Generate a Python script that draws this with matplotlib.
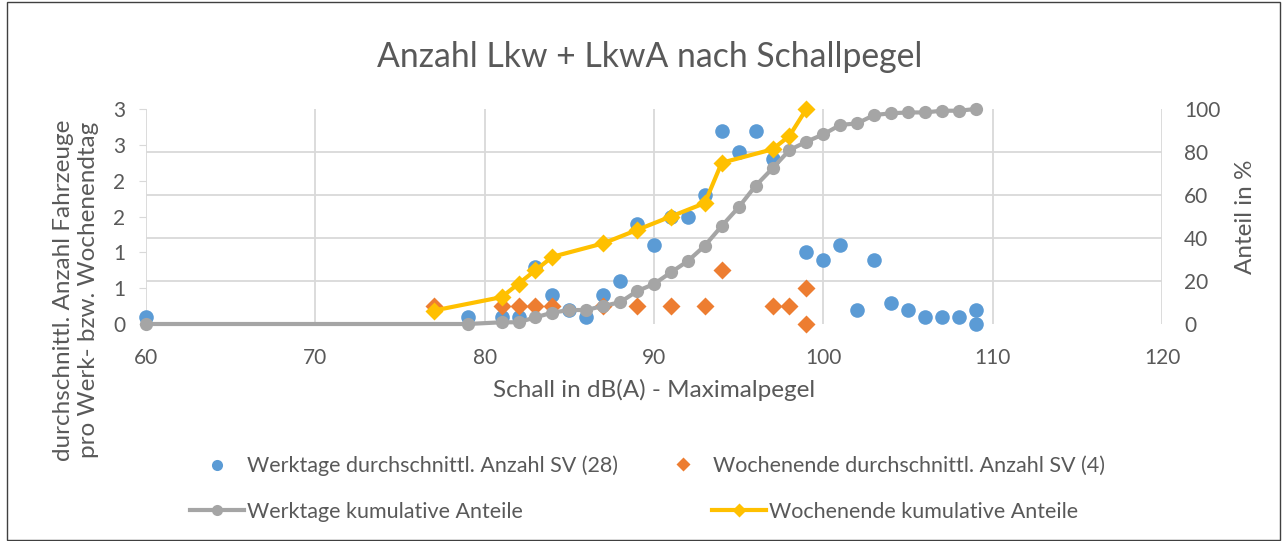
import numpy as np
import matplotlib.pyplot as plt
from matplotlib.lines import Line2D
from matplotlib.patches import Rectangle

plt.rcParams['font.family'] = ['Lato', 'DejaVu Sans']

# Werktage: durchschnittl. Anzahl SV je Schallpegel (28 Tage)
wt_x = [60, 79, 81, 82, 83, 84, 85, 86, 87, 88, 89, 90, 91, 92, 93, 94, 95, 96, 97,
        99, 100, 101, 102, 103, 104, 105, 106, 107, 108, 109, 109]
wt_y = [0.1, 0.1, 0.1, 0.1, 0.8, 0.4, 0.2, 0.1, 0.4, 0.6, 1.4, 1.1, 1.5, 1.5, 1.8, 2.7, 2.4, 2.7, 2.3,
        1.0, 0.9, 1.1, 0.2, 0.9, 0.3, 0.2, 0.1, 0.1, 0.1, 0.2, 0.0]

# Wochenende: durchschnittl. Anzahl SV (4 Tage)
we_x = [77, 81, 82, 83, 84, 87, 89, 91, 93, 94, 97, 98, 99, 99]
we_y = [0.25, 0.25, 0.25, 0.25, 0.25, 0.25, 0.25, 0.25, 0.25, 0.75, 0.25, 0.25, 0.5, 0.0]

# kumulative Anteile in %
wk_x = [60, 79, 81, 82, 83, 84, 85, 86, 87, 88, 89, 90, 91, 92, 93, 94, 95, 96, 97, 98,
        99, 100, 101, 102, 103, 104, 105, 106, 107, 108, 109]
wk_y = [0, 0, 0.8, 0.8, 3.1, 5.3, 6.5, 6.5, 8.4, 10.1, 15.3, 18.6, 24.0, 29.3, 36.4, 45.6, 54.3, 64.3, 72.4, 80.9,
        84.8, 88.2, 92.6, 93.3, 97.2, 98.0, 98.4, 98.4, 99.2, 99.2, 100]
wc_x = [77, 81, 82, 83, 84, 87, 89, 91, 93, 94, 97, 98, 99]
wc_y = [6.25, 12.5, 18.75, 25, 31.25, 37.5, 43.75, 50, 56.25, 75, 81.25, 87.5, 100]

x_ticks = [60, 70, 80, 90, 100, 110, 120]
left_ticks = [0, 0.5, 1.0, 1.5, 2.0, 2.5, 3.0]
left_labels = ['0', '1', '1', '2', '2', '3', '3']   # Excel-Format "0"
right_ticks = [0, 20, 40, 60, 80, 100]

BLUE, ORANGE, GRAY, YELLOW = '#5b9bd5', '#ed7d31', '#a5a5a5', '#ffc000'
TXT, GRID = '#595959', '#d9d9d9'
W, H = 1284, 541

fig = plt.figure(figsize=(W / 100, H / 100), dpi=100)
ax = fig.add_axes([146 / W, 1 - 324 / H, (1162 - 146) / W, (324 - 109) / H])
ax2 = ax.twinx()

ax.plot(wt_x, wt_y, 'o', ms=10.5, color=BLUE, mec='none', clip_on=False, zorder=3)
ax.plot(we_x, we_y, 'D', ms=9.5, color=ORANGE, mec='none', clip_on=False, zorder=3)
ax2.plot(wk_x, wk_y, '-o', lw=3, ms=9.5, color=GRAY, mec='none', clip_on=False, zorder=3)
ax2.plot(wc_x, wc_y, '-D', lw=3, ms=9.5, color=YELLOW, mec='none', clip_on=False, zorder=4)

ax.set_xlim(60, 120)
ax.set_ylim(0, 3)
ax2.set_ylim(0, 100)
ax.set_xticks(x_ticks)
ax.set_yticks(left_ticks)
ax.set_yticklabels(left_labels)
ax.set_yticks([t * 3 / 100 for t in right_ticks], minor=True)
ax2.set_yticks(right_ticks)

ax.set_axisbelow(True)
ax.grid(axis='x', which='major', color=GRID, lw=1.3)
ax.grid(axis='y', which='minor', color=GRID, lw=1.3)
ax.grid(axis='y', which='major', visible=False)
for a in (ax, ax2):
    for s in a.spines.values():
        s.set_visible(False)
ax.tick_params(axis='y', which='major', length=5, color=GRID, pad=10, labelsize=15, labelcolor=TXT)
ax.tick_params(axis='y', which='minor', length=0)
ax.tick_params(axis='x', length=0, pad=17, labelsize=15, labelcolor=TXT)
ax2.tick_params(axis='y', length=0, pad=16, labelsize=15, labelcolor=TXT)

ax.set_xlabel('Schall in dB(A) - Maximalpegel', fontsize=17.5, color=TXT, labelpad=8)
fig.text(76 / W, 1 - 290 / H, 'durchschnittl. Anzahl Fahrzeuge\npro Werk- bzw. Wochenendtag',
         rotation=90, ha='center', va='center', fontsize=17.5, color=TXT, linespacing=1.2)
fig.text(1245 / W, 1 - 217 / H, 'Anteil in %', rotation=90, ha='center', va='center',
         fontsize=17.5, color=TXT)
fig.text(650 / W, 1 - 57 / H, 'Anzahl Lkw + LkwA nach Schallpegel', ha='center', va='center',
         fontsize=24.3, color=TXT)

# Legende (Positionen wie im Excel-Diagramm)
entries = [
    (Line2D([], [], ls='none', marker='o', ms=8, color=BLUE, mec='none'),
     'Werktage durchschnittl. Anzahl SV (28)', 190, 466),
    (Line2D([], [], ls='none', marker='D', ms=7, color=ORANGE, mec='none'),
     'Wochenende durchschnittl. Anzahl SV (4)', 656, 466),
    (Line2D([], [], lw=3, marker='o', ms=8, color=GRAY, mec='none'),
     'Werktage kumulative Anteile', 190, 512),
    (Line2D([], [], lw=3, marker='D', ms=7, color=YELLOW, mec='none'),
     'Wochenende kumulative Anteile', 712, 512),
]
for h, lab, px, py in entries:
    fig.legend([h], [lab], loc='center left', bbox_to_anchor=(px / W, 1 - py / H),
               frameon=False, borderpad=0, borderaxespad=0, handlelength=2.5,
               handletextpad=0.15, fontsize=15.5, labelcolor=TXT)

fig.patches.append(Rectangle((7 / W, 0.002), (1280 - 7) / W, 0.994, transform=fig.transFigure,
                             fill=False, ec='#404040', lw=1))

fig.savefig('out.png', dpi=100)
